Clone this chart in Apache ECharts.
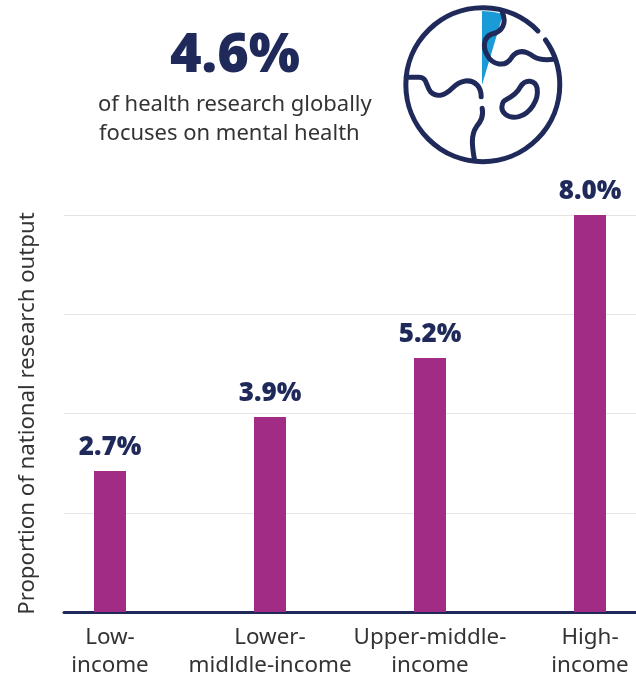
<!DOCTYPE html>
<html><head><meta charset="utf-8">
<style>html,body{margin:0;padding:0;background:#fff}#c{width:636px;height:682px}</style>
<script src="https://cdn.jsdelivr.net/npm/echarts@6/dist/echarts.min.js"></script>
</head><body><div id="c"></div>
<script>
const categories = ['Low-\nincome','Lower-\nmidldle-income','Upper-middle-\nincome','High-\nincome'];
const barValues = [2.84, 3.93, 5.12, 8.0];
const barLabels = ['2.7%','3.9%','5.2%','8.0%'];
const globalShare = [4.6, 95.4];
const headline = '4.6%';
const subline1 = 'of health research globally';
const subline2 = 'focuses on mental health';
const yName = 'Proportion of national research output';
const NAVY = '#1f2a5a', FONT = '"Noto Sans", sans-serif', BOLD = '"Open Sans", sans-serif', TXT = '#333';
const globePaths = [
 'M442.3 92.7 A231 231 0 0 0 46 254 A231 231 0 0 0 277 485 A231 231 0 0 0 465 120',
 'M335 35 C350 70 335 95 305 102 C280 110 275 140 290 165 C305 195 345 205 365 170 C385 145 410 155 430 170 C445 180 470 180 490 178',
 'M50 232 L85 232 C110 232 105 255 120 275 C140 295 165 285 185 265 C210 240 240 235 260 255 C272 268 272 280 272 290',
 'M275 325 C280 350 270 365 258 380 C240 405 245 440 252 480',
 'M345 300 C365 290 380 280 390 260 C405 235 435 240 440 265 C445 300 420 340 385 350 C350 358 330 335 335 315 C337 305 340 302 345 300Z'
];
const chart = echarts.init(document.getElementById('c'), null, {renderer:'canvas'});
chart.setOption({
 animation:false,
 backgroundColor:'#fff',
 grid:[
  {left:64,right:0,top:215,bottom:70,outerBoundsMode:'none'},
  {left:30,width:640,top:215,bottom:70,outerBoundsMode:'none'}
 ],
 xAxis:[
  {type:'category',gridIndex:0,data:categories,axisLabel:{show:false},axisTick:{show:false},
   axisLine:{show:true,lineStyle:{color:NAVY,width:3}},splitLine:{show:false}},
  {type:'category',gridIndex:1,data:categories,axisTick:{show:false},axisLine:{show:false},
   axisLabel:{color:TXT,fontFamily:FONT,fontSize:22.4,lineHeight:28,margin:12,interval:0,hideOverlap:false}}
 ],
 yAxis:[
  {type:'value',gridIndex:0,min:0,max:8,interval:2,axisLabel:{show:false},axisTick:{show:false},axisLine:{show:false},
   splitLine:{show:true,lineStyle:{color:'#e4e4e4',width:1}},
   name:yName,nameLocation:'middle',nameGap:25,nameRotate:90,
   nameTextStyle:{color:TXT,fontFamily:FONT,fontSize:22.2}},
  {type:'value',gridIndex:1,min:0,max:8,show:false}
 ],
 graphic:[
  {type:'text',x:235,y:57,style:{text:headline,fill:NAVY,font:'800 54px '+BOLD,textAlign:'center',textVerticalAlign:'middle'}},
  {type:'text',x:98,y:105,style:{text:subline1,fill:TXT,font:'22px '+FONT,textAlign:'left',textVerticalAlign:'middle'}},
  {type:'text',x:99,y:134,style:{text:subline2,fill:TXT,font:'22px '+FONT,textAlign:'left',textVerticalAlign:'middle'}}
 ],
 series:[
  {type:'pie',center:[482,85],radius:[0,74],startAngle:90,clockwise:true,silent:true,z:1,
   label:{show:false},labelLine:{show:false},
   data:[{value:globalShare[0],itemStyle:{color:'#1a9ad6'}},{value:globalShare[1],itemStyle:{color:'transparent'}}]},
  {type:'custom',coordinateSystem:'none',z:3,silent:true,data:[[0]],
   renderItem:()=>({type:'group',x:390.5,y:0,scaleX:1/3,scaleY:1/3,
     children:globePaths.map(p=>({type:'path',shape:{pathData:p},
       style:{fill:null,stroke:NAVY,lineWidth:15,lineCap:'round',lineJoin:'round'}}))})},
  {type:'bar',xAxisIndex:1,yAxisIndex:1,data:barValues,barWidth:32,itemStyle:{color:'#a02c85'},
   label:{show:true,position:'top',distance:10,color:NAVY,fontFamily:BOLD,fontWeight:800,fontSize:26,
     formatter:p=>barLabels[p.dataIndex]}}
 ]
});
</script></body></html>
